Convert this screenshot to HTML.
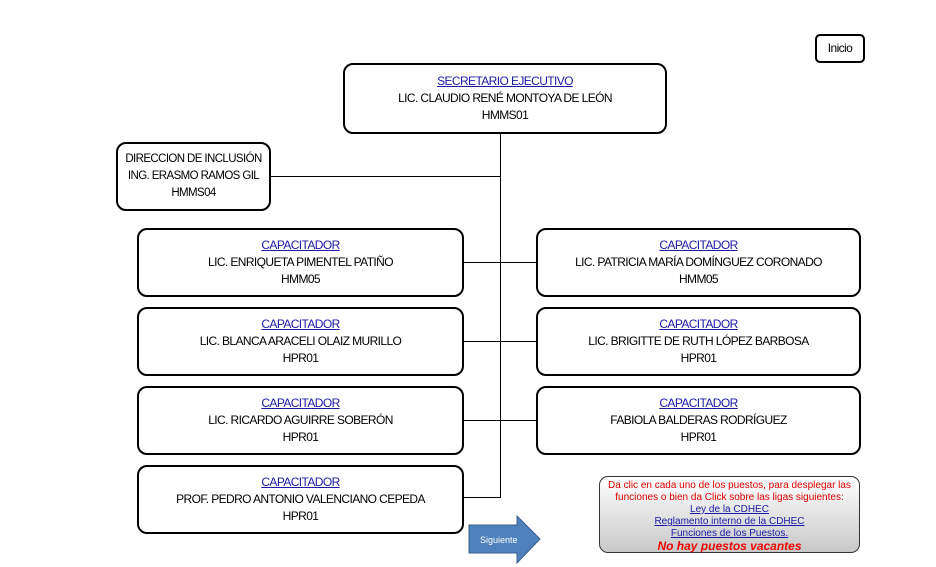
<!DOCTYPE html>
<html><head><meta charset="utf-8"><style>
body{margin:0;width:936px;height:567px;background:#fff;position:relative;overflow:hidden;font-family:"Liberation Sans Narrow","Liberation Sans",sans-serif;}
.b{position:absolute;border:2px solid #000;border-radius:10px;background:#fff;box-sizing:border-box;text-align:center;font-size:12px;line-height:17px;color:#000;letter-spacing:-0.6px;display:flex;flex-direction:column;justify-content:center;}
.b a{color:#1a1aa6;text-decoration:underline;}
.l{position:absolute;background:#000;}
</style></head><body>
<div class="b" style="left:815px;top:34px;width:50px;height:29px;border-radius:5px;">Inicio</div>
<div class="l" style="left:500px;top:134px;width:1px;height:364px"></div>
<div class="l" style="left:270px;top:176px;width:231px;height:1px"></div>
<div class="l" style="left:463px;top:262px;width:73px;height:1px"></div>
<div class="l" style="left:463px;top:341px;width:73px;height:1px"></div>
<div class="l" style="left:463px;top:420px;width:73px;height:1px"></div>
<div class="l" style="left:463px;top:497px;width:38px;height:1px"></div>
<div class="b" style="left:343px;top:63px;width:324px;height:71px"><a>SECRETARIO EJECUTIVO</a>LIC. CLAUDIO RENÉ MONTOYA DE LEÓN<br>HMMS01</div>
<div class="b" style="left:116px;top:142px;width:155px;height:69px;font-size:11.5px">DIRECCION DE INCLUSIÓN<br>ING. ERASMO RAMOS GIL<br>HMMS04</div>
<div class="b" style="left:137px;top:228px;width:327px;height:69px"><a>CAPACITADOR</a>LIC. ENRIQUETA PIMENTEL PATIÑO<br>HMM05</div>
<div class="b" style="left:536px;top:228px;width:325px;height:69px"><a>CAPACITADOR</a>LIC. PATRICIA MARÍA DOMÍNGUEZ CORONADO<br>HMM05</div>
<div class="b" style="left:137px;top:307px;width:327px;height:69px"><a>CAPACITADOR</a>LIC. BLANCA ARACELI OLAIZ MURILLO<br>HPR01</div>
<div class="b" style="left:536px;top:307px;width:325px;height:69px"><a>CAPACITADOR</a>LIC. BRIGITTE DE RUTH LÓPEZ BARBOSA<br>HPR01</div>
<div class="b" style="left:137px;top:386px;width:327px;height:69px"><a>CAPACITADOR</a>LIC. RICARDO AGUIRRE SOBERÓN<br>HPR01</div>
<div class="b" style="left:536px;top:386px;width:325px;height:69px"><a>CAPACITADOR</a>FABIOLA BALDERAS RODRÍGUEZ<br>HPR01</div>
<div class="b" style="left:137px;top:465px;width:327px;height:69px"><a>CAPACITADOR</a>PROF. PEDRO ANTONIO VALENCIANO CEPEDA<br>HPR01</div>
<svg style="position:absolute;left:468px;top:515px" width="74" height="50"><polygon points="1,10 49,10 49,1 72,24 49,48 49,38 1,38" fill="#4f81bd" stroke="#385d8a"/><text x="12" y="28" font-size="9" fill="#fff" font-family="Liberation Sans">Siguiente</text></svg>
<div style="position:absolute;left:599px;top:476px;width:261px;height:77px;border:1px solid #333;border-radius:9px;box-sizing:border-box;background:linear-gradient(#fff,#c8c8c8);text-align:center;font-family:'Liberation Sans',sans-serif;font-size:10px;line-height:12px;padding-top:3px;color:#d00;">
Da clic en cada uno de los puestos, para desplegar las funciones o bien da Click sobre las ligas siguientes:<br>
<span style="color:#1a1aa6;text-decoration:underline">Ley de la CDHEC</span><br>
<span style="color:#1a1aa6;text-decoration:underline">Reglamento interno de la CDHEC</span><br>
<span style="color:#1a1aa6;text-decoration:underline">Funciones de los Puestos.</span><br>
<b style="font-style:italic;font-size:12px;color:#e00">No hay puestos vacantes</b></div>
</body></html>
